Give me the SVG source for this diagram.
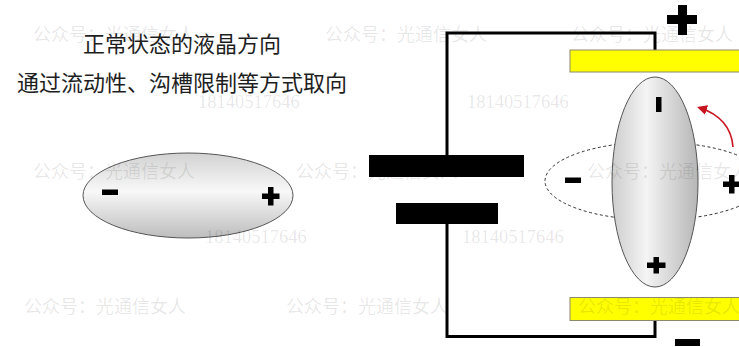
<svg xmlns="http://www.w3.org/2000/svg" width="739" height="347" viewBox="0 0 739 347">
  <defs>
    <linearGradient id="lcH" x1="0" y1="0" x2="0" y2="1">
      <stop offset="0" stop-color="#d2d2d2"/>
      <stop offset="0.45" stop-color="#f8f8f8"/>
      <stop offset="1" stop-color="#bdbdbd"/>
    </linearGradient>
    <linearGradient id="lcV" x1="0" y1="0" x2="1" y2="0">
      <stop offset="0" stop-color="#cdcdcd"/>
      <stop offset="0.4" stop-color="#f4f4f4"/>
      <stop offset="1" stop-color="#b6b6b6"/>
    </linearGradient>
    <marker id="redHead" viewBox="0 0 10 10" refX="8" refY="5" markerWidth="10" markerHeight="10" markerUnits="userSpaceOnUse" orient="auto">
      <path d="M0,0 L10,5 L0,10 Z" fill="#c8141e"/>
    </marker>
  </defs>
  <style>
    .title { font-family: "Noto Sans CJK SC", "Noto Sans", sans-serif; font-size: 22px; fill: #1e1e1e; text-anchor: middle; }
    .wm { font-family: "Liberation Serif", "Noto Sans CJK SC", serif; font-size: 18px; fill: #000; fill-opacity: 0.1; }
    .wmn { font-family: "Liberation Serif", serif; font-size: 18.5px; fill: #000; fill-opacity: 0.1; }
    .wire { fill: none; stroke: #000; stroke-width: 3; }
    .plate { fill: #ffff00; stroke: #8a8a6a; stroke-width: 1; }
    .sign { fill: #000; }
    .lc { stroke: #555; stroke-width: 1; }
  </style>

  <rect width="739" height="347" fill="#fff"/>

  <!-- headings -->
  <g id="headings">
    <text class="title" x="182" y="52">正常状态的液晶方向</text>
    <text class="title" x="182" y="91">通过流动性、沟槽限制等方式取向</text>
  </g>

  <!-- connectors: circuit wires and rotation arrow -->
  <g id="connectors">
    <polyline class="wire" points="447,155 447,33 655,33 655,50"/>
    <polyline class="wire" points="447,224 447,336.5 655,336.5 655,320"/>
    <path d="M733,147 Q731,118 699,107.5" fill="none" stroke="#c8141e" stroke-width="1.6" marker-end="url(#redHead)"/>
  </g>

  <!-- molecule at rest, lying flat -->
  <g id="molecule-rest">
    <ellipse class="lc" cx="188" cy="195.5" rx="105" ry="42.5" fill="url(#lcH)"/>
    <rect class="sign" x="102" y="189.5" width="16" height="5.5"/>
    <path class="sign" d="M268,187 h5.5 v6.5 h6 v5.5 h-6 v6.5 h-5.5 v-6.5 h-6 v-5.5 h6 Z"/>
  </g>

  <!-- battery -->
  <g id="battery">
    <rect x="369" y="155" width="155" height="22" fill="#000"/>
    <rect x="396" y="203" width="102" height="21" fill="#000"/>
  </g>

  <!-- electrode plates -->
  <g id="plate-top">
    <rect class="plate" x="570" y="50" width="175" height="22"/>
    <path class="sign" d="M678,5 h9 v10 h10 v9 h-10 v11 h-9 v-11 h-11 v-9 h11 Z"/>
  </g>
  <g id="plate-bottom">
    <rect class="plate" x="570" y="297.5" width="175" height="23"/>
    <rect class="sign" x="675" y="339" width="25" height="7"/>
  </g>

  <!-- previous orientation, dashed outline -->
  <g id="molecule-previous">
    <ellipse cx="655" cy="181" rx="110" ry="39" fill="none" stroke="#333" stroke-width="1" stroke-dasharray="3,2.5"/>
    <rect class="sign" x="565" y="177.5" width="16" height="5.5"/>
    <path class="sign" d="M729,175 h5.5 v6.5 h6 v5.5 h-6 v6.5 h-5.5 v-6.5 h-6 v-5.5 h6 Z"/>
  </g>

  <!-- molecule aligned by the field -->
  <g id="molecule-aligned">
    <ellipse class="lc" cx="655" cy="182" rx="43" ry="105" fill="url(#lcV)"/>
    <rect class="sign" x="656" y="97" width="5.5" height="15"/>
    <path class="sign" d="M653.5,257 h5.5 v5.5 h6.5 v5.5 h-6.5 v5.5 h-5.5 v-5.5 h-6.5 v-5.5 h6.5 Z"/>
  </g>

  <!-- watermark -->
  <g id="watermark">
    <text class="wm" x="33" y="41">公众号：光通信女人</text>
    <text class="wm" x="325" y="41">公众号：光通信女人</text>
    <text class="wm" x="571" y="41">公众号：光通信女人</text>
    <text class="wmn" x="198" y="108">18140517646</text>
    <text class="wmn" x="467" y="108">18140517646</text>
    <text class="wm" x="33" y="178">公众号：光通信女人</text>
    <text class="wm" x="296" y="178">公众号：光通信女人</text>
    <text class="wm" x="587" y="178">公众号：光通信女人</text>
    <text class="wmn" x="205" y="243">18140517646</text>
    <text class="wmn" x="462" y="243">18140517646</text>
    <text class="wm" x="24" y="313">公众号：光通信女人</text>
    <text class="wm" x="286" y="313">公众号：光通信女人</text>
    <text class="wm" x="578" y="313">公众号：光通信女人</text>
  </g>
</svg>
